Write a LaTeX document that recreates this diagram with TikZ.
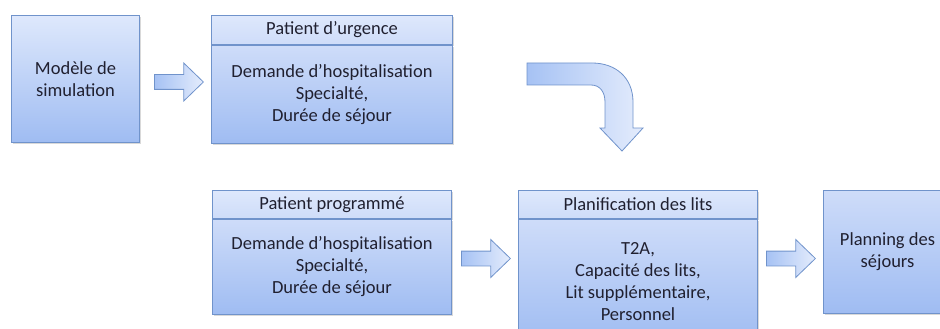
\documentclass[tikz,border=0pt]{standalone}
\usepackage{fontspec}
\setmainfont{Carlito}
\usepackage{xcolor}
\usetikzlibrary{shapes,arrows,positioning,calc,shadows}
\definecolor{boxtop}{HTML}{DEE8FC}
\definecolor{boxmid}{HTML}{CEDCF9}
\definecolor{boxbot}{HTML}{9FBCF2}
\definecolor{boxline}{HTML}{7093CB}
\definecolor{arrdark}{HTML}{A6C2F4}
\definecolor{arrlight}{HTML}{E4ECFC}
\definecolor{txt}{HTML}{202030}

\begin{document}
\begin{tikzpicture}[x=1pt,y=-1pt,font=\fontsize{18.5}{22}\selectfont,text=txt,
  bloc/.style={draw=boxline,line width=1pt,top color=boxmid,bottom color=boxbot,
    align=center,inner sep=0pt,
    drop shadow={opacity=0.3,shadow xshift=1.5pt,shadow yshift=-1.5pt}},
  entete/.style={bloc,top color=boxtop,bottom color=boxmid,anchor=north west,
    minimum height=28pt},
  fleche/.style={single arrow,draw=boxline,line width=0.8pt,left color=arrdark,
    right color=arrlight,minimum height=49pt,inner xsep=0pt,inner ysep=7pt,
    single arrow head extend=11.5pt,single arrow tip angle=88}]
\clip (0,0) rectangle (940,329);

% Modele de simulation
\node[bloc,top color=boxtop,anchor=north west,minimum width=128pt,minimum height=127pt]
  (sim) at (11,15) {Modèle de\\simulation};
\node[fleche,right=14pt of sim,yshift=-3pt] (a1) {};

% Patient d'urgence
\node[entete,minimum width=241pt,minimum height=29pt] (urghead) at (211,15) {Patient d’urgence};
\node[bloc,below=0pt of urghead,minimum width=241pt,minimum height=98pt] (urg)
  {Demande d’hospitalisation\\Specialté,\\Durée de séjour};

% fleche coudee
\draw[boxline,line width=0.8pt,left color=arrdark,right color=arrlight]
  (527,63) -- (592,63) .. controls (616,63) and (633,78) .. (633,102) -- (633,128)
  -- (643,128) -- (622,151) -- (600,128) -- (605,128) -- (605,102)
  .. controls (605,92) and (600,85) .. (591,85) -- (527,85) -- cycle;

% Patient programme
\node[entete,minimum width=239pt] (proghead) at (212,190) {Patient programmé};
\node[bloc,below=0pt of proghead,minimum width=239pt,minimum height=95pt] (prog)
  {Demande d’hospitalisation\\Specialté,\\Durée de séjour};
\node[fleche,right=9pt of prog,yshift=8.5pt] (a2) {};

% Planification des lits
\node[entete,minimum width=239pt] (planhead) at (518,190) {Planification des lits};
\node[bloc,below=0pt of planhead,minimum width=239pt,minimum height=124pt] (plan)
  {T2A,\\Capacité des lits,\\Lit supplémentaire,\\Personnel};
\node[fleche,anchor=west] (a3) at ($(plan.east |- a2)+(8,0)$) {};

% Planning des sejours
\node[bloc,anchor=north west,minimum width=128pt,minimum height=123pt]
  (sej) at (823,190) {Planning des\\séjours};
\end{tikzpicture}
\end{document}
